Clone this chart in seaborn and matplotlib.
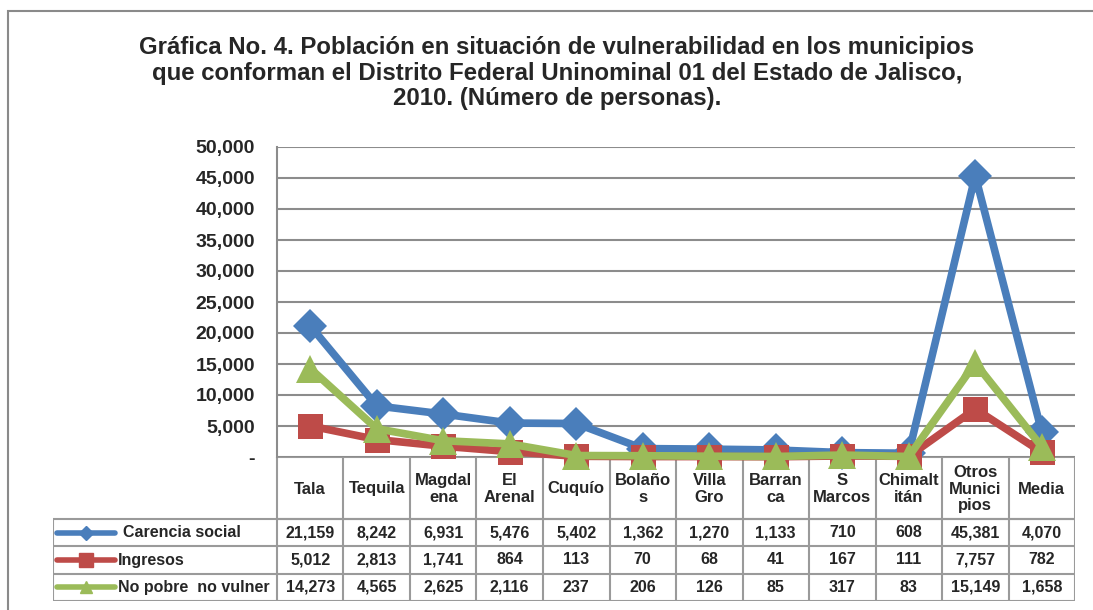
import pandas as pd
import matplotlib.pyplot as plt
import seaborn as sns
from matplotlib.lines import Line2D
from matplotlib.patches import Rectangle
from matplotlib.ticker import FuncFormatter

# Datos de la grafica
municipios = ["Tala", "Tequila", "Magdalena", "El Arenal", "Cuquío", "Bolaños",
              "Villa Gro", "Barranca", "S Marcos", "Chimaltitán",
              "Otros Municipios", "Media"]
encabezados = ["Tala", "Tequila", "Magdal\nena", "El\nArenal", "Cuquío", "Bolaño\ns",
               "Villa\nGro", "Barran\nca", "S\nMarcos", "Chimalt\nitán",
               "Otros\nMunici\npios", "Media"]
series = ["Carencia social", "Ingresos", "No pobre  no vulner"]
carencia_social = [21159, 8242, 6931, 5476, 5402, 1362, 1270, 1133, 710, 608, 45381, 4070]
ingresos = [5012, 2813, 1741, 864, 113, 70, 68, 41, 167, 111, 7757, 782]
no_pobre = [14273, 4565, 2625, 2116, 237, 206, 126, 85, 317, 83, 15149, 1658]
valores = [carencia_social, ingresos, no_pobre]

colores = ["#4A7EBB", "#BE4B48", "#9BBB59"]
marcadores = ["D", "s", "^"]
tam_marcador = [17, 18, 20]

titulo = ("Gráfica No. 4. Población en situación de vulnerabilidad en los municipios\n"
          "que conforman el Distrito Federal Uninominal 01 del Estado de Jalisco,\n"
          "2010. (Número de personas).")


def tabla_larga():
    filas = []
    for serie, vals in zip(series, valores):
        for m, v in zip(municipios, vals):
            filas.append({"municipio": m, "serie": serie, "valor": v})
    return pd.DataFrame(filas)


def main():
    sns.set_style("white")
    plt.rcParams['font.family'] = ['Liberation Sans', 'DejaVu Sans']
    plt.rcParams['font.weight'] = 'bold'

    W, H = 1093, 610
    fig = plt.figure(figsize=(W / 100, H / 100), dpi=100)

    # marco exterior
    fig.patches.append(Rectangle((8 / W, -0.05), 1.2, 1 - 11 / H + 0.05,
                                 transform=fig.transFigure, fill=False,
                                 edgecolor="#8a8a8a", linewidth=1.5))

    fig.text(557 / W, 1 - 36 / H, titulo, ha="center", va="top", fontsize=17.3,
             fontweight="bold", linespacing=1.15)

    x0, x1, y0, y1 = 277, 1075, 147, 457
    ncol = len(municipios)
    colw = (x1 - x0) / ncol

    # tabla de datos (debajo)
    tx0, ty1 = 53, 601
    tab = fig.add_axes([tx0 / W, (H - ty1) / H, (x1 - tx0) / W, (ty1 - y1) / H])
    tab.set_zorder(0)
    tab.set_xlim(-0.5 - (x0 - tx0) / colw, ncol - 0.5)
    head_h = 62
    row_h = (ty1 - y1 - head_h) / 3
    tab.set_ylim(ty1 - y1, 0)
    tab.axis("off")
    gris = "#9a9a9a"
    xl = tab.get_xlim()[0]
    # lineas de la tabla
    tab.hlines([0, head_h], -0.5, ncol - 0.5, color=gris, lw=1.5)
    tab.hlines([head_h + row_h * k for k in range(4)], xl, ncol - 0.5, color=gris, lw=1.5)
    tab.vlines([i - 0.5 for i in range(ncol + 1)], 0, ty1 - y1, color=gris, lw=1.5)
    tab.vlines([xl], head_h, ty1 - y1, color=gris, lw=1.5)
    for i, lab in enumerate(encabezados):
        tab.text(i, head_h / 2 + 1, lab, ha="center", va="center", fontsize=12,
                 fontweight="bold", linespacing=1.15)
    for r, (serie, vals) in enumerate(zip(series, valores)):
        yc = head_h + row_h * (r + 0.5)
        for i, v in enumerate(vals):
            tab.text(i, yc, f"{v:,}", ha="center", va="center", fontsize=11.5,
                     fontweight="bold")
        lx = [xl + 4 / colw, xl + 62 / colw]
        tab.add_line(Line2D(lx, [yc, yc], color=colores[r], lw=4,
                            marker=None, solid_capstyle="round"))
        tab.plot([(lx[0] + lx[1]) / 2], [yc], marker=marcadores[r], color=colores[r],
                 markersize=[7, 10, 8][r])
        tab.text(xl + (70 if r == 0 else 65) / colw, yc, serie, ha="left", va="center",
                 fontsize=11.5, fontweight="bold")

    # grafica de lineas
    ax = fig.add_axes([x0 / W, (H - y1) / H, (x1 - x0) / W, (y1 - y0) / H])
    ax.set_zorder(2)
    ax.patch.set_alpha(0)
    df = tabla_larga()
    sns.lineplot(data=df, x="municipio", y="valor", hue="serie", style="serie",
                 markers=marcadores, dashes=False, palette=colores, linewidth=5.5,
                 markeredgewidth=0, legend=False, sort=False, ax=ax)
    for ln, ms in zip(ax.lines, tam_marcador):
        ln.set_markersize(ms)
        ln.set_clip_on(False)
        ln.set_solid_joinstyle("miter")

    ax.set_xlim(-0.5, ncol - 0.5)
    ax.set_ylim(0, 50000)
    ax.set_yticks(range(0, 50001, 5000))
    ax.yaxis.set_major_formatter(FuncFormatter(lambda v, p: "-" if v == 0 else f"{int(v):,}"))
    ax.set_xticks([])
    ax.set_xlabel("")
    ax.set_ylabel("")
    ax.tick_params(axis="y", length=0, pad=16, labelsize=14)
    for t in ax.get_yticklabels():
        t.set_fontweight("bold")
    ax.grid(axis="y", color="#8c8c8c", linewidth=1.5)
    ax.set_axisbelow(True)
    for s in ["top", "right", "bottom"]:
        ax.spines[s].set_visible(False)
    ax.spines["left"].set_color("#8c8c8c")
    ax.spines["left"].set_linewidth(1.5)

    fig.savefig("out.png", dpi=100)


if __name__ == "__main__":
    main()
